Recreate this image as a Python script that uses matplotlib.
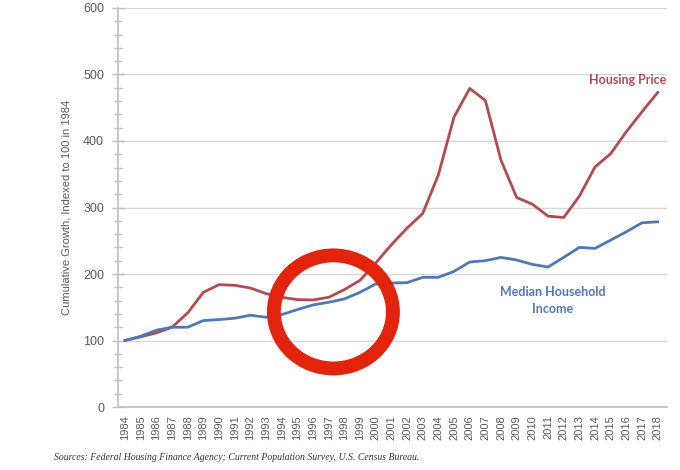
import numpy as np
import matplotlib
matplotlib.use("Agg")
import matplotlib.pyplot as plt
from matplotlib.patches import Ellipse
from matplotlib.ticker import MultipleLocator

years = list(range(1984, 2019))
housing_price = [100, 105.5, 111.5, 120, 141.5, 172.5, 184, 183, 179, 170.5,
                 165, 161.5, 161, 165, 176.5, 190.5, 216.5, 244, 269, 291,
                 349, 436, 479, 461, 371, 315, 305, 287, 285, 317,
                 361, 381, 414, 444, 473]
median_income = [100, 106.5, 115.5, 120, 120, 130, 131.5, 133.5, 138, 135,
                 139, 146.5, 153.5, 157.5, 162.5, 172.5, 185, 186.5, 187, 195,
                 195, 204, 218, 220, 225, 221, 214.5, 210.5, 225, 240,
                 238.5, 251, 263.5, 277, 278.5]

red = '#B04B4F'
blue = '#4F78B4'
gray = '#595959'

plt.rcParams['font.family'] = ['Liberation Sans', 'DejaVu Sans']

fig = plt.figure(figsize=(6.8, 4.7), dpi=100)
ax = fig.add_axes([0.1735, 0.134, 0.8075, 0.849])

ax.plot(years, housing_price, color=red, lw=2, zorder=3)
ax.plot(years, median_income, color=blue, lw=2, zorder=3)

ax.set_ylim(0, 600)
ax.set_xlim(1983.55, 2018.6)
ax.yaxis.set_major_locator(MultipleLocator(100))
ax.yaxis.set_minor_locator(MultipleLocator(20))
ax.set_xticks(years)
ax.set_xticklabels([str(y) for y in years], rotation=90)
ax.grid(axis='y', color='#D9D9D9', lw=1)
ax.set_axisbelow(True)

for s in ['top', 'right']:
    ax.spines[s].set_visible(False)
for s in ['left', 'bottom']:
    ax.spines[s].set_color('#BFBFBF')
    ax.spines[s].set_linewidth(1.2)

ax.tick_params(axis='y', which='both', direction='inout', color='#BFBFBF',
               labelcolor=gray, labelsize=9, width=1)
ax.tick_params(axis='y', which='major', length=8, pad=6)
ax.tick_params(axis='y', which='minor', length=6)
ax.tick_params(axis='x', length=0, labelcolor=gray, labelsize=8, pad=6)

ax.set_ylabel('Cumulative Growth, Indexed to 100 in 1984', color=gray,
              fontsize=8, labelpad=8)

ax.text(2016.1, 492, 'Housing Price', color=red, fontsize=9,
        fontweight='bold', family='Lato', ha='center', va='center')
ax.text(2011.3, 160, 'Median Household\nIncome', color=blue, fontsize=9,
        fontweight='bold', family='Lato', ha='center', va='center',
        linespacing=1.5)

# hand-drawn highlight circle
ax.add_patch(Ellipse((1997.3, 143), 7.6, 170, angle=0, fill=False,
                     ec='#E3240C', lw=10, zorder=5))

fig.text(0.08, 0.022, 'Sources: Federal Housing Finance Agency; Current Population Survey, U.S. Census Bureau.',
         family='Liberation Serif', style='italic', fontsize=7, color='#333333')

fig.savefig('out.png', dpi=100)
